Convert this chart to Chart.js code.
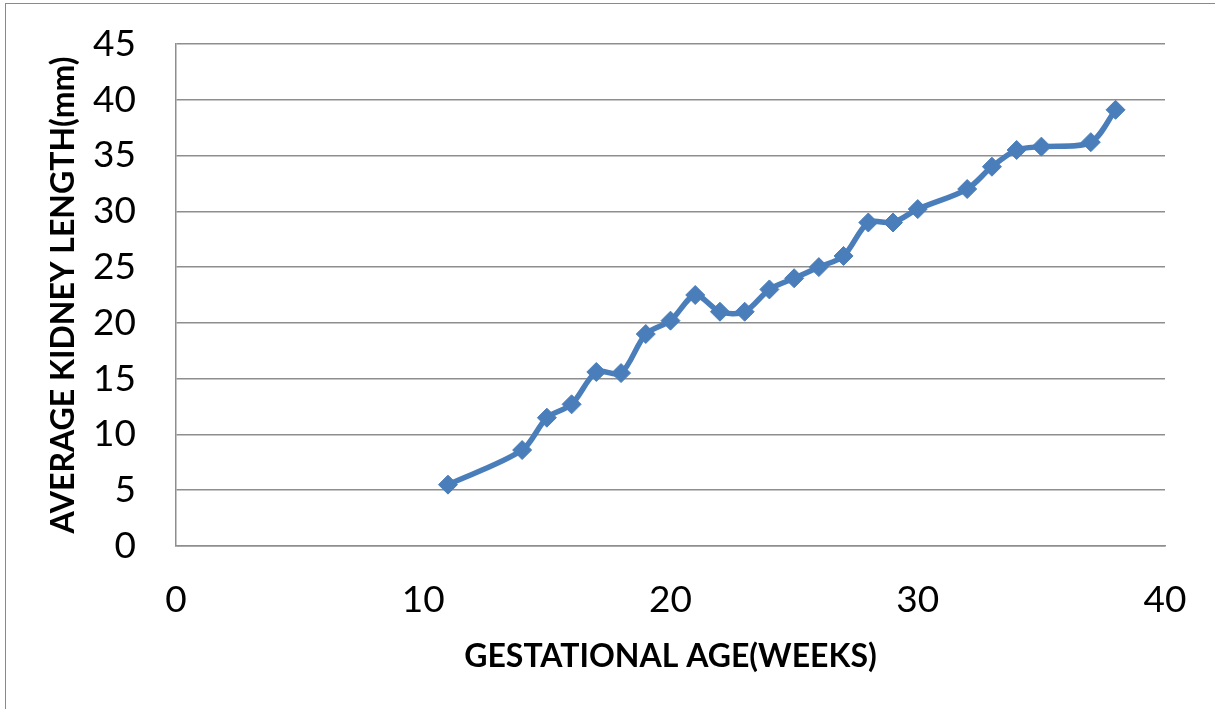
<!DOCTYPE html>
<html>
<head>
<meta charset="utf-8">
<script src="https://cdn.jsdelivr.net/npm/chart.js@4.4.1/dist/chart.umd.min.js"></script>
<style>
    body { margin: 0; background: #fff; overflow: hidden; }
    #frame {
        position: absolute; left: 5px; top: 3px;
        width: 1400px; height: 900px;
        border: 1.5px solid #8a8a8a;
    }
    #wrap { position: absolute; left: 0; top: 0; width: 1215px; height: 709px; }
</style>
</head>
<body>
<div id="frame"></div>
<div id="wrap"><canvas id="chart" width="1215" height="709"></canvas></div>
<script>
// gestational age (weeks) and average kidney length (mm)
var weeks = [11, 14, 15, 16, 17, 18, 19, 20, 21, 22, 23, 24, 25, 26, 27, 28, 29, 30, 32, 33, 34, 35, 37, 38];
var kidneyLength = [5.5, 8.6, 11.5, 12.7, 15.6, 15.5, 19.0, 20.2, 22.5, 21.0, 21.0, 23.0, 24.0, 25.0, 26.0, 29.0, 29.0, 30.2, 32.0, 34.0, 35.5, 35.8, 36.2, 39.1];
var xTicks = [0, 10, 20, 30, 40];
var yTicks = [0, 5, 10, 15, 20, 25, 30, 35, 40, 45];

var blue = "#4a7ebb";
var gridGray = "#8e8e8e";

var points = [];
for (var i = 0; i < weeks.length; i++) {
    points.push({ x: weeks[i], y: kidneyLength[i] });
}

var ctx = document.getElementById("chart").getContext("2d");
new Chart(ctx, {
    type: "line",
    data: {
        datasets: [
            {
                label: "Average kidney length",
                data: points,
                borderColor: blue,
                backgroundColor: blue,
                borderWidth: 5.5,
                tension: 0.3,
                pointStyle: "rectRot",
                pointRadius: 9.5,
                pointBorderWidth: 1,
                pointBackgroundColor: blue,
                pointBorderColor: blue,
            },
        ],
    },
    options: {
        responsive: false,
        animation: false,
        layout: { padding: { top: 44, right: 50, bottom: 0, left: 0 } },
        plugins: {
            legend: { display: false },
            tooltip: { enabled: false },
        },
        scales: {
            x: {
                type: "linear",
                min: 0,
                max: 40,
                afterBuildTicks: function (axis) {
                    axis.ticks = xTicks.map(function (v) { return { value: v }; });
                },
                afterFit: function (axis) { axis.height = 163; },
                // invisible tick marks push the labels down without padding the chart area
                grid: {
                    display: true,
                    drawOnChartArea: false,
                    drawTicks: true,
                    tickLength: 28,
                    tickColor: "rgba(0,0,0,0)",
                },
                border: { display: true, color: gridGray, width: 1.5 },
                ticks: {
                    color: "#000",
                    padding: 4,
                    maxRotation: 0,
                    font: { family: "Lato", size: 37 },
                },
                title: {
                    display: true,
                    text: "GESTATIONAL AGE(WEEKS)",
                    color: "#000",
                    padding: { top: 33, bottom: 33 },
                    font: { family: "Lato", size: 32, weight: "bold" },
                },
            },
            y: {
                type: "linear",
                min: 0,
                max: 45,
                afterBuildTicks: function (axis) {
                    axis.ticks = yTicks.map(function (v) { return { value: v }; });
                },
                afterFit: function (axis) { axis.width = 176; },
                grid: {
                    color: gridGray,
                    lineWidth: 1.5,
                    drawTicks: true,
                    tickLength: 36,
                    tickColor: "rgba(0,0,0,0)",
                },
                border: { display: true, color: gridGray, width: 1.5 },
                ticks: {
                    color: "#000",
                    padding: 4,
                    font: { family: "Lato", size: 37 },
                },
                title: {
                    display: true,
                    text: "AVERAGE KIDNEY LENGTH(mm)",
                    color: "#000",
                    padding: { top: 44, bottom: 0 },
                    font: { family: "Lato", size: 32, weight: "bold" },
                },
            },
        },
    },
});
</script>
</body>
</html>
